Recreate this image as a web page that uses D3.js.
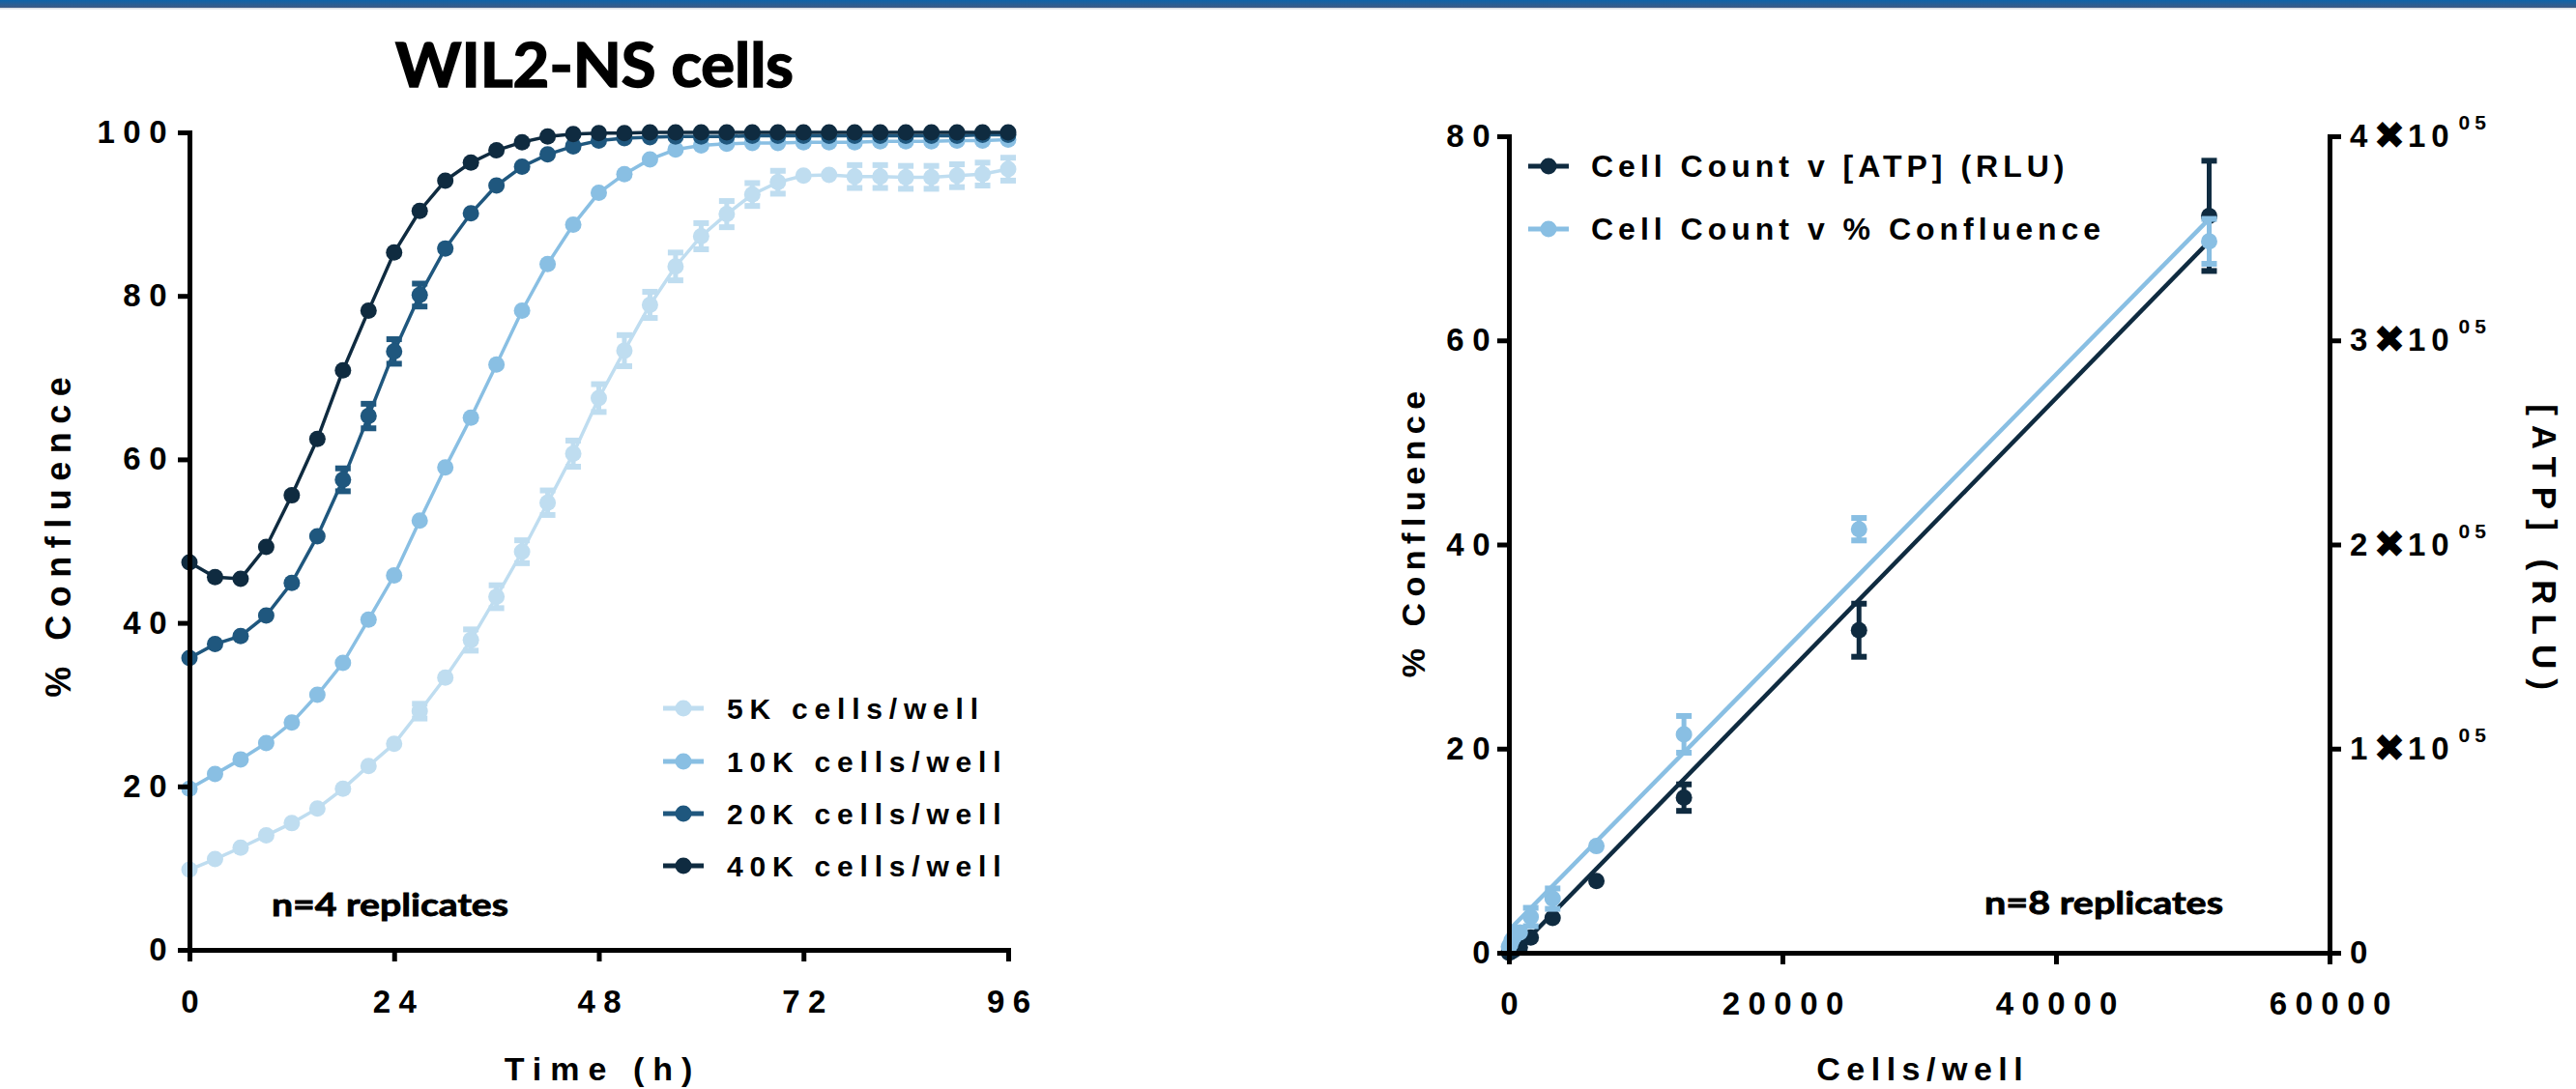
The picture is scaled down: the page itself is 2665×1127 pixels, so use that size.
<!DOCTYPE html>
<html>
<head>
<meta charset="utf-8">
<title>WIL2-NS cells</title>
<script src="https://cdnjs.cloudflare.com/ajax/libs/d3/7.8.5/d3.min.js"></script>
<style>
  html, body { margin: 0; padding: 0; background: #fff; }
  svg { display: block; }
  text { font-family: "Liberation Sans", Arial, sans-serif; font-weight: bold; fill: #000; }
</style>
</head>
<body>
<div id="chart"></div>
<script>
// ---- data: growth curves (left panel) ----
const hours = [0, 3, 6, 9, 12, 15, 18, 21, 24, 27, 30, 33, 36, 39, 42, 45, 48,
               51, 54, 57, 60, 63, 66, 69, 72, 75, 78, 81, 84, 87, 90, 93, 96];
const timeTicks = [0, 24, 48, 72, 96];
const confTicks = [0, 20, 40, 60, 80, 100];

const seriesNames = ['5K cells/well', '10K cells/well', '20K cells/well', '40K cells/well'];
const seriesColors = ['#bfddf0', '#89bfe3', '#1f577e', '#0f2b40'];

const conf5K = [9.8, 11.1, 12.5, 14.0, 15.5, 17.3, 19.7, 22.5, 25.2, 29.2,
                33.3, 37.9, 43.2, 48.7, 54.7, 60.7, 67.5, 73.3, 78.9, 83.6,
                87.3, 90.0, 92.4, 93.9, 94.7, 94.8, 94.6, 94.6, 94.5, 94.5,
                94.7, 94.9, 95.5];
const conf10K = [19.7, 21.5, 23.3, 25.3, 27.8, 31.2, 35.1, 40.4, 45.8, 52.5,
                 59.0, 65.1, 71.6, 78.2, 83.9, 88.7, 92.6, 94.9, 96.7, 97.9,
                 98.4, 98.6, 98.7, 98.7, 98.8, 98.8, 98.8, 98.9, 98.9, 98.9,
                 99.0, 99.0, 99.1];
const conf20K = [35.7, 37.4, 38.4, 40.9, 44.9, 50.6, 57.5, 65.3, 73.2, 80.1,
                 85.8, 90.1, 93.5, 95.8, 97.3, 98.3, 99.0, 99.3, 99.4, 99.5,
                 99.5, 99.5, 99.6, 99.6, 99.6, 99.6, 99.6, 99.6, 99.6, 99.6,
                 99.6, 99.7, 99.7];
const conf40K = [47.4, 45.6, 45.4, 49.3, 55.6, 62.5, 70.9, 78.2, 85.3, 90.4,
                 94.1, 96.3, 97.8, 98.8, 99.5, 99.8, 99.9, 99.9, 100, 100,
                 100, 100, 100, 100, 100, 100, 100, 100, 100, 100,
                 100, 100, 100];

// SEM, 0 where the bar hides behind the symbol
const err5K = [0, 0, 0, 0, 0, 0, 0, 0, 0, 0.9,
               0, 1.3, 1.4, 1.4, 1.5, 1.6, 1.7, 1.9, 1.6, 1.7,
               1.6, 1.6, 1.4, 1.4, 0, 0, 1.4, 1.4, 1.4, 1.4,
               1.4, 1.4, 1.4];
const err10K = [0, 0, 0, 0, 0, 0, 0, 0, 0, 0,
                0, 0, 0, 0, 0, 0, 0, 0, 0, 0,
                0, 0, 0, 0, 0, 0, 0, 0, 0, 0,
                0, 0, 0];
const err20K = [0, 0, 0, 0, 0, 0, 1.4, 1.5, 1.5, 1.4,
                0, 0, 0, 0, 0, 0, 0, 0, 0, 0,
                0, 0, 0, 0, 0, 0, 0, 0, 0, 0,
                0, 0, 0];
const err40K = [0, 0, 0, 0, 0, 0, 0, 0, 0, 0,
                0, 0, 0, 0, 0, 0, 0, 0, 0, 0,
                0, 0, 0, 0, 0, 0, 0, 0, 0, 0,
                0, 0, 0];

// ---- data: cell count standard (right panel) ----
const cellsPerWell = [0, 100, 200, 400, 800, 1600, 3200, 6400, 12800, 25600, 51200];
const atpRLU = [0, 300, 700, 1400, 2600, 7500, 17000, 35200, 76000, 158000, 361000];
const atpSEM = [0, 0, 0, 0, 0, 0, 0, 0, 6500, 13000, 27000];
const confluencePct = [0.6, 0.8, 1.2, 1.6, 2.0, 3.5, 5.3, 10.45, 21.4, 41.5, 69.7];
const confluenceSEM = [0, 0, 0, 0, 0, 0.9, 1.0, 0, 1.8, 1.1, 2.2];
// linear fits (end points)
const confFitCells = [0, 51200];
const confFitPct = [2.2, 71.9];
const atpFitCells = [400, 51200];
const atpFitRLU = [0, 348500];

const cellTicks = [0, 20000, 40000, 60000];
const pctTicks = [0, 20, 40, 60, 80];
const rluTicks = [0, 100000, 200000, 300000, 400000];
const standardNames = ['Cell Count v [ATP] (RLU)', 'Cell Count v % Confluence'];
const standardColors = ['#0f2b40', '#89bfe3'];

// ---- layout ----
const W = 2665, H = 1127;
const R = 8.5;

const svg = d3.select('#chart').append('svg')
    .attr('width', W)
    .attr('height', H);

// top banner
const grad = svg.append('defs').append('linearGradient')
    .attr('id', 'banner').attr('x1', 0).attr('y1', 0).attr('x2', 0).attr('y2', 1);
grad.append('stop').attr('offset', '0%').attr('stop-color', '#0f64a9');
grad.append('stop').attr('offset', '100%').attr('stop-color', '#3e5b85');
svg.append('rect').attr('x', 0).attr('y', 0).attr('width', W).attr('height', 8).attr('fill', 'url(#banner)');
svg.append('rect').attr('x', 0).attr('y', 8).attr('width', W).attr('height', 1.5).attr('fill', '#d9dde2');

function styleAxis(g, spacing) {
    g.select('.domain').attr('stroke', '#000').attr('stroke-width', 5).attr('stroke-linecap', 'square');
    g.selectAll('.tick line').attr('stroke', '#000').attr('stroke-width', 5);
    g.selectAll('.tick text')
        .attr('fill', '#000')
        .style('font-size', '33px')
        .style('font-family', '"Liberation Sans", Arial, sans-serif')
        .style('font-weight', 'bold')
        .style('letter-spacing', spacing + 'px');
}

// error bar: stem + two caps
function errorBars(g, pts, xs, ys, color) {
    const eb = g.selectAll(null).data(pts.filter(d => d.e > 0)).join('g');
    eb.append('line')
        .attr('x1', d => xs(d.x)).attr('x2', d => xs(d.x))
        .attr('y1', d => ys(d.y + d.e)).attr('y2', d => ys(d.y - d.e))
        .attr('stroke', color).attr('stroke-width', 5);
    [1, -1].forEach(sign => {
        eb.append('rect')
            .attr('x', d => xs(d.x) - 8).attr('width', 16)
            .attr('y', d => ys(d.y + sign * d.e) - 3).attr('height', 6)
            .attr('fill', color);
    });
}

function markers(g, pts, xs, ys, color) {
    g.selectAll(null).data(pts).join('circle')
        .attr('cx', d => xs(d.x))
        .attr('cy', d => ys(d.y))
        .attr('r', R)
        .attr('fill', color);
}

function axisTitle(x, y, rot, label, size, spacing) {
    svg.append('text')
        .attr('transform', `translate(${x},${y}) rotate(${rot})`)
        .attr('text-anchor', 'middle')
        .attr('dx', spacing / 2)
        .style('font-size', size + 'px')
        .style('letter-spacing', spacing + 'px')
        .text(label);
}

// Calibri-like note text (Lato, thickened a little)
function note(x, y, size, len, label, anchor) {
    return svg.append('text')
        .attr('x', x).attr('y', y)
        .attr('text-anchor', anchor || 'start')
        .attr('textLength', len).attr('lengthAdjust', 'spacingAndGlyphs')
        .attr('stroke', '#000').attr('stroke-width', size / 40)
        .style('font-family', 'Lato, "Open Sans", sans-serif')
        .style('font-size', size + 'px')
        .text(label);
}

/* ================= left panel: growth ================= */
const xT = d3.scaleLinear().domain([0, 96]).range([196, 1043]);
const yC = d3.scaleLinear().domain([0, 100]).range([983, 137]);

const growth = [
    { name: seriesNames[0], color: seriesColors[0], values: conf5K, err: err5K },
    { name: seriesNames[1], color: seriesColors[1], values: conf10K, err: err10K },
    { name: seriesNames[2], color: seriesColors[2], values: conf20K, err: err20K },
    { name: seriesNames[3], color: seriesColors[3], values: conf40K, err: err40K }
];

const lineT = d3.line().x(d => xT(d.x)).y(d => yC(d.y));

growth.forEach(s => {
    const pts = hours.map((h, i) => ({ x: h, y: s.values[i], e: s.err[i] }));
    const g = svg.append('g');
    errorBars(g, pts, xT, yC, s.color);
    g.append('path').datum(pts)
        .attr('d', lineT)
        .attr('fill', 'none')
        .attr('stroke', s.color)
        .attr('stroke-width', 3.5);
    markers(g, pts, xT, yC, s.color);
});

const gyL = svg.append('g').attr('transform', 'translate(196,0)')
    .call(d3.axisLeft(yC).tickValues(confTicks).tickSize(12).tickSizeOuter(0).tickPadding(3));
styleAxis(gyL, 8.5);

const gxL = svg.append('g').attr('transform', 'translate(0,983)')
    .call(d3.axisBottom(xT).tickValues(timeTicks).tickSize(12).tickSizeOuter(0).tickPadding(30));
styleAxis(gxL, 8.5);
gxL.selectAll('.tick text').attr('dx', 4.25);

axisTitle(73, 556, -90, '% Confluence', 36, 8.5);
axisTitle(619, 1118, 0, 'Time (h)', 34, 9);

note(615, 90, 64, 412, 'WIL2-NS cells', 'middle');
note(281, 948, 32, 245, 'n=4 replicates');

// legend
const legRows = [733, 788, 842, 896];
growth.forEach((s, i) => {
    const g = svg.append('g').attr('transform', `translate(0,${legRows[i]})`);
    g.append('line').attr('x1', 686).attr('x2', 728).attr('y1', 0).attr('y2', 0)
        .attr('stroke', s.color).attr('stroke-width', 5);
    g.append('circle').attr('cx', 707).attr('cy', 0).attr('r', R).attr('fill', s.color);
    g.append('text').attr('x', 752).attr('y', 11)
        .style('font-size', '30px').style('letter-spacing', '6.8px')
        .text(s.name);
});

/* ================= right panel: standards ================= */
const xN = d3.scaleLinear().domain([0, 60000]).range([1561, 2410]);
const yP = d3.scaleLinear().domain([0, 80]).range([986, 141]);
const yA = d3.scaleLinear().domain([0, 400000]).range([986, 141]);

const atpPts = cellsPerWell.map((c, i) => ({ x: c, y: atpRLU[i], e: atpSEM[i] }));
const confPts = cellsPerWell.map((c, i) => ({ x: c, y: confluencePct[i], e: confluenceSEM[i] }));

const gA = svg.append('g');
errorBars(gA, atpPts, xN, yA, standardColors[0]);
markers(gA, atpPts, xN, yA, standardColors[0]);
gA.append('path').datum(atpFitCells.map((c, i) => ({ x: c, y: atpFitRLU[i] })))
    .attr('d', d3.line().x(d => xN(d.x)).y(d => yA(d.y)))
    .attr('fill', 'none').attr('stroke', standardColors[0]).attr('stroke-width', 4.5);

const gP = svg.append('g');
errorBars(gP, confPts, xN, yP, standardColors[1]);
markers(gP, confPts, xN, yP, standardColors[1]);
gP.append('path').datum(confFitCells.map((c, i) => ({ x: c, y: confFitPct[i] })))
    .attr('d', d3.line().x(d => xN(d.x)).y(d => yP(d.y)))
    .attr('fill', 'none').attr('stroke', standardColors[1]).attr('stroke-width', 4.5);

const gyP = svg.append('g').attr('transform', 'translate(1561,0)')
    .call(d3.axisLeft(yP).tickValues(pctTicks).tickSize(12).tickSizeOuter(0).tickPadding(-1));
styleAxis(gyP, 8.5);

const gxN = svg.append('g').attr('transform', 'translate(0,986)')
    .call(d3.axisBottom(xN).tickValues(cellTicks).tickFormat(d3.format('d')).tickSize(12).tickSizeOuter(0).tickPadding(29));
styleAxis(gxN, 8.5);
gxN.selectAll('.tick text').attr('dx', 4.25);

const gyA = svg.append('g').attr('transform', 'translate(2410,0)')
    .call(d3.axisRight(yA).tickValues(rluTicks).tickSize(12).tickSizeOuter(0).tickPadding(9));
styleAxis(gyA, 6);
gyA.selectAll('.tick text').each(function (d) {
    const t = d3.select(this).text(null);
    if (d === 0) { t.text('0'); return; }
    t.append('tspan').text(d / 100000);
    t.append('tspan').attr('dy', 2)
        .style('font-family', '"DejaVu Sans", sans-serif')
        .style('font-size', '40px')
        .style('letter-spacing', '2px')
        .text('\u2716');
    t.append('tspan').attr('dy', -2).text('10');
    t.append('tspan').attr('dy', -18).attr('dx', 4).style('font-size', '21px').style('letter-spacing', '5px').text('05');
});

axisTitle(1474, 553, -90, '% Confluence', 34, 6.5);
axisTitle(2620, 566, 90, '[ATP] (RLU)', 35, 10);
axisTitle(1986, 1118, 0, 'Cells/well', 34, 6.5);

note(2053, 946, 32, 247, 'n=8 replicates');

const stdRows = [172, 237];
standardNames.forEach((name, i) => {
    const g = svg.append('g').attr('transform', `translate(0,${stdRows[i]})`);
    g.append('line').attr('x1', 1581).attr('x2', 1623).attr('y1', 0).attr('y2', 0)
        .attr('stroke', standardColors[i]).attr('stroke-width', 5);
    g.append('circle').attr('cx', 1602).attr('cy', 0).attr('r', R).attr('fill', standardColors[i]);
    g.append('text').attr('x', 1646).attr('y', 11)
        .style('font-size', '32px').style('letter-spacing', '5px')
        .text(name);
});
</script>
</body>
</html>
